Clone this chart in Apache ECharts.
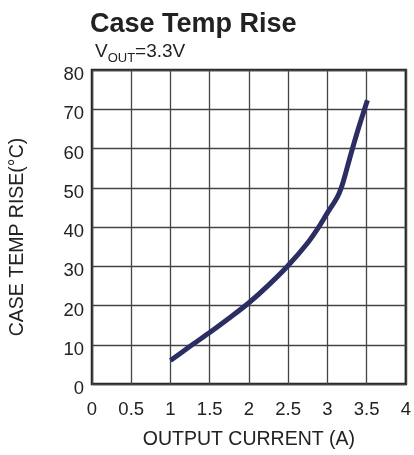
<!DOCTYPE html>
<html>
<head>
<meta charset="utf-8">
<script src="https://cdn.jsdelivr.net/npm/echarts@6/dist/echarts.min.js"></script>
<style>
html,body{margin:0;padding:0;background:#fff;}
#chart{width:414px;height:455px;}
</style>
</head>
<body>
<div id="chart"></div>
<script>
// Data
var currentA = [1.0, 1.25, 1.5, 1.75, 2.0, 2.25, 2.5, 2.75, 2.9, 3.0, 3.1, 3.15, 3.2, 3.3, 3.4, 3.51];
var tempRise = [6.0, 9.6, 13.1, 16.8, 20.7, 25.2, 30.2, 36.0, 40.3, 43.6, 46.7, 48.6, 51.4, 58.6, 65.4, 72.3];
var xTicks = [0, 0.5, 1, 1.5, 2, 2.5, 3, 3.5, 4];
var yTicks = [0, 10, 20, 30, 40, 50, 60, 70, 80];
var titleText = 'Case Temp Rise';
var xName = 'OUTPUT CURRENT (A)';
var yName = 'CASE TEMP RISE(\u00B0C)';

var points = currentA.map(function (x, i) { return [x, tempRise[i]]; });
var font = 'Liberation Sans, Arial, Helvetica, sans-serif';

var chart = echarts.init(document.getElementById('chart'), null, {renderer: 'canvas'});
chart.setOption({
  animation: false,
  backgroundColor: '#fff',
  title: [
    {
      text: titleText, left: 85, top: 6,
      textStyle: {fontFamily: font, fontSize: 27, fontWeight: 'bold', color: '#222'}
    },
    {
      text: '{a|V}{b|OUT}{a|=3.3V}', left: 90, top: 37,
      textStyle: {
        fontFamily: font, fontWeight: 'normal',
        rich: {
          a: {fontFamily: font, fontSize: 19, fontWeight: 'normal', color: '#222', verticalAlign: 'bottom'},
          b: {fontFamily: font, fontSize: 13, fontWeight: 'normal', color: '#222', verticalAlign: 'bottom', padding: [0, 0, -4, 0]}
        }
      }
    }
  ],
  grid: {
    left: 89.5, right: 6.5, top: 70, bottom: 68.5,
    show: true, borderColor: '#222', borderWidth: 2.5, backgroundColor: 'transparent'
  },
  xAxis: {
    type: 'value', min: xTicks[0], max: xTicks[xTicks.length - 1], interval: 0.5,
    name: xName, nameLocation: 'middle', nameGap: 46,
    nameTextStyle: {fontFamily: font, fontSize: 19.5, color: '#222'},
    axisLine: {show: false}, axisTick: {show: false},
    axisLabel: {fontFamily: font, fontSize: 18.5, color: '#222', margin: 16,
      formatter: function (v) { return xTicks.indexOf(v) >= 0 ? String(v) : ''; }},
    splitLine: {show: true, lineStyle: {color: '#444', width: 1.3}}
  },
  yAxis: {
    type: 'value', min: yTicks[0], max: yTicks[yTicks.length - 1], interval: 10,
    name: yName, nameLocation: 'middle', nameGap: 64,
    nameTextStyle: {fontFamily: font, fontSize: 19.5, color: '#222', padding: [0, 20, 0, 0]},
    axisLine: {show: false}, axisTick: {show: false},
    axisLabel: {fontFamily: font, fontSize: 18.5, color: '#222', margin: 8,
      verticalAlign: 'top', lineHeight: 10},
    splitLine: {show: true, lineStyle: {color: '#444', width: 1.3}}
  },
  series: [{
    type: 'line', data: points, smooth: 0.3, showSymbol: false,
    lineStyle: {color: '#2c2d63', width: 5, cap: 'butt'}
  }]
});
</script>
</body>
</html>
